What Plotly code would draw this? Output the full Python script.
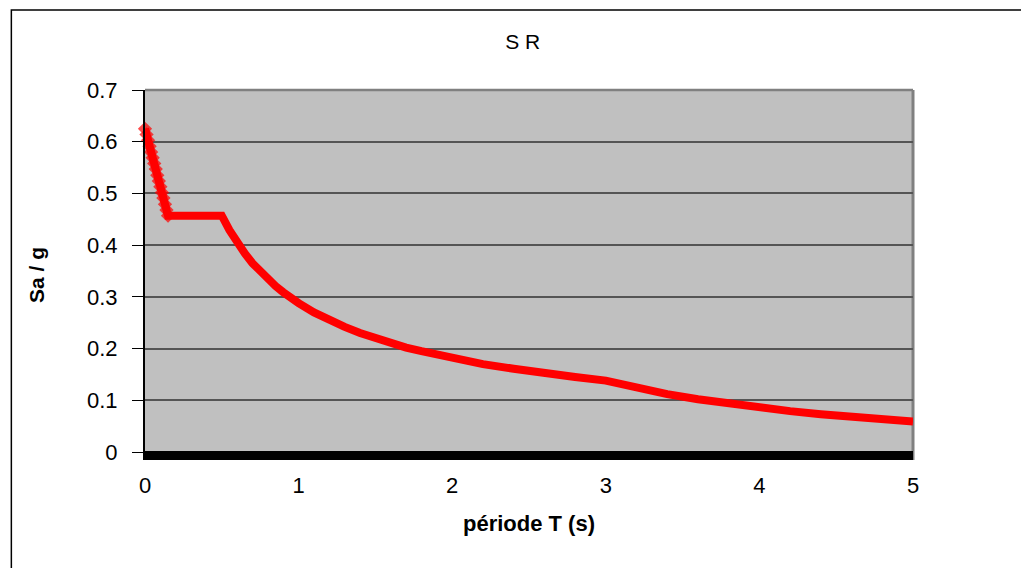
import plotly.graph_objects as go

# Period T (s) and spectral acceleration Sa/g
periods = [0.00, 0.01, 0.02, 0.03, 0.04, 0.05, 0.06, 0.07, 0.08, 0.09, 0.10,
           0.11, 0.12, 0.13, 0.14, 0.15, 0.20, 0.25, 0.30, 0.35, 0.40, 0.45,
           0.50, 0.55, 0.60, 0.65, 0.70, 0.75, 0.80, 0.85, 0.90, 0.95, 1.00,
           1.10, 1.20, 1.30, 1.40, 1.50, 1.60, 1.70, 1.80, 1.90, 2.00, 2.20,
           2.40, 2.60, 2.80, 3.00, 3.20, 3.40, 3.60, 3.80, 4.00, 4.20, 4.40,
           4.60, 4.80, 5.00]
sa_g = [0.625, 0.614, 0.603, 0.591, 0.580, 0.569, 0.558, 0.547, 0.535, 0.524,
        0.513, 0.502, 0.491, 0.479, 0.468, 0.457, 0.457, 0.457, 0.457, 0.457,
        0.457, 0.457, 0.457, 0.429, 0.405, 0.384, 0.365, 0.349, 0.334, 0.321,
        0.309, 0.298, 0.288, 0.270, 0.255, 0.242, 0.230, 0.220, 0.210, 0.202,
        0.195, 0.188, 0.181, 0.170, 0.161, 0.152, 0.145, 0.138, 0.124, 0.112,
        0.102, 0.0933, 0.0857, 0.0790, 0.0731, 0.0679, 0.0632, 0.0591]

# Zero baseline series
base_t = [0, 5]
base_v = [0, 0]

x_ticks = [0, 1, 2, 3, 4, 5]
y_ticks = [0, 0.1, 0.2, 0.3, 0.4, 0.5, 0.6, 0.7]
y_labels = ["0", "0.1", "0.2", "0.3", "0.4", "0.5", "0.6", "0.7"]

FONT = "Liberation Sans, Arial, sans-serif"

# markers visible only on the steep first branch (dense points there)
marker_sizes = [11 if t <= 0.15 else 0 for t in periods]

PX_PER_UNIT = 362 / 0.7          # vertical scale of the plot
Y_LOW = -8 / PX_PER_UNIT         # plot area runs 8px below zero (baseline band)
SHIFT = 4 / PX_PER_UNIT          # baseline band centred 4px below zero

fig = go.Figure()
fig.add_trace(go.Scatter(
    x=periods, y=sa_g, mode="lines+markers",
    line=dict(color="#FF0000", width=8),
    marker=dict(symbol="diamond", size=marker_sizes, color="#FF0000",
                line=dict(width=0)),
    cliponaxis=False, showlegend=False))
fig.add_trace(go.Scatter(
    x=base_t, y=base_v, mode="lines", yaxis="y2",
    line=dict(color="black", width=10),
    showlegend=False, hoverinfo="skip"))

fig.update_layout(
    width=1021, height=568,
    margin=dict(l=145, r=108, t=90, b=108),
    paper_bgcolor="white", plot_bgcolor="#C0C0C0",
    font=dict(family=FONT, size=22, color="black"),
    title=dict(text="S R", x=0.512, xanchor="center", y=0.926, yanchor="middle",
               font=dict(family=FONT, size=21)),
    xaxis=dict(range=[0, 5], tickvals=x_ticks, ticks="", showgrid=False,
               zeroline=False, showline=False, tickfont=dict(size=22),
               ticklabelstandoff=10,
               title=dict(text="<b>période T (s)</b>", standoff=18,
                          font=dict(size=22))),
    yaxis=dict(range=[Y_LOW, 0.7], tickvals=y_ticks, ticktext=y_labels,
               ticks="outside", ticklen=11, tickwidth=1, tickcolor="black",
               ticklabelstandoff=10,
               showgrid=True, gridcolor="#555555", gridwidth=1.5,
               zeroline=False, showline=True, linecolor="black", linewidth=2,
               tickfont=dict(size=22),
               title=dict(text="<b>Sa / g</b>", standoff=37,
                          font=dict(size=21))),
    yaxis2=dict(range=[Y_LOW + SHIFT, 0.7 + SHIFT], overlaying="y",
                visible=False),
    shapes=[
        dict(type="line", xref="paper", yref="paper", x0=0, x1=1, y0=1, y1=1,
             line=dict(color="#808080", width=2.5), layer="below"),
        dict(type="line", xref="paper", yref="paper", x0=1, x1=1, y0=0, y1=1,
             line=dict(color="#808080", width=3), layer="below"),
        dict(type="rect", xref="paper", yref="paper",
             x0=-134 / 770, x1=1.4, y0=-0.8, y1=1 + 80 / 370,
             line=dict(color="black", width=1.5), layer="below"),
    ],
)

fig.write_html("out.html", config={"displayModeBar": False},
               post_script="document.body.style.margin='0px';")
